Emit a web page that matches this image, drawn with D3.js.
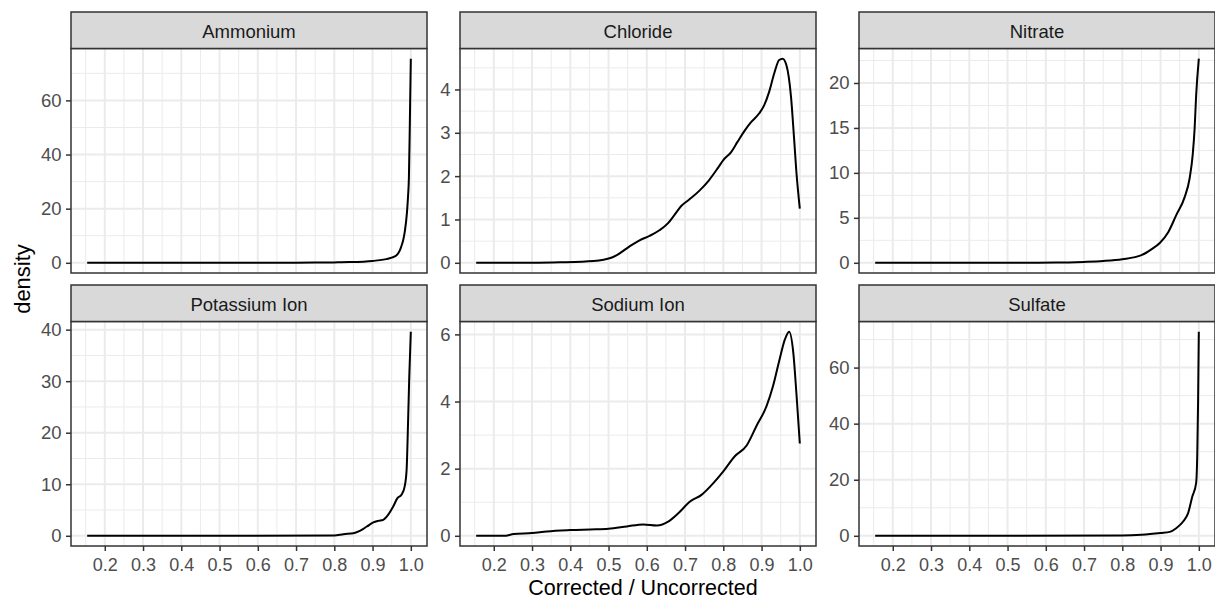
<!DOCTYPE html>
<html>
<head>
  <meta charset='utf-8'>
  <title>Corrected / Uncorrected density</title>
  <style type='text/css'>
body{
  margin:0;
  background:#fff;
}
text{
  font-family: 'Liberation Sans', Arial, sans-serif;
}
  </style>
</head>
<body>
<div id='chartContainer'></div>

<script src='https://d3js.org/d3.v7.min.js'></script>
<script type='text/javascript'>

// Facet names, in panel order (left to right, top to bottom)
var panels = ['Ammonium', 'Chloride', 'Nitrate', 'Potassium Ion', 'Sodium Ion', 'Sulfate'];

// x tick values shared by all panels
var xTicks = [0.2, 0.3, 0.4, 0.5, 0.6, 0.7, 0.8, 0.9, 1.0];

// density curves
var ammoniumX = [0.154, 0.3, 0.5, 0.7, 0.75, 0.8, 0.84, 0.9, 0.936, 0.95, 0.962, 0.971, 0.975, 0.98, 0.984, 0.99, 0.9925, 0.995, 0.9975, 1.0];
var ammoniumY = [0, 0, 0.02, 0.05, 0.08, 0.15, 0.25, 0.7, 1.35, 1.9, 2.7, 4.5, 6, 8.3, 11.3, 18.7, 24, 31.5, 52, 75.4];

var chlorideX = [0.154, 0.3, 0.374, 0.461, 0.507, 0.524, 0.555, 0.581, 0.607, 0.633, 0.655, 0.672, 0.69, 0.711, 0.737, 0.763, 0.786, 0.8, 0.82, 0.837, 0.855, 0.872, 0.894, 0.907, 0.92, 0.933, 0.946, 0.955, 0.965, 0.977, 0.985, 0.991, 1.0];
var chlorideY = [0, 0, 0.01, 0.04, 0.115, 0.19, 0.38, 0.52, 0.62, 0.75, 0.91, 1.1, 1.31, 1.46, 1.66, 1.91, 2.19, 2.37, 2.55, 2.79, 3.04, 3.24, 3.45, 3.64, 3.95, 4.37, 4.68, 4.71, 4.56, 3.83, 2.87, 2.1, 1.25];

var nitrateX = [0.154, 0.5, 0.627, 0.7, 0.75, 0.8, 0.85, 0.876, 0.898, 0.92, 0.941, 0.963, 0.976, 0.984, 0.989, 0.993, 1.0];
var nitrateY = [0, 0, 0.02, 0.1, 0.2, 0.4, 0.85, 1.5, 2.2, 3.4, 5.3, 7.3, 9.4, 12, 14.9, 18.6, 22.7];

var potassiumX = [0.154, 0.5, 0.8, 0.824, 0.85, 0.868, 0.885, 0.902, 0.915, 0.928, 0.941, 0.954, 0.965, 0.976, 0.984, 0.989, 0.993, 0.996, 1.0];
var potassiumY = [0, 0, 0.05, 0.32, 0.5, 1.0, 1.8, 2.6, 2.9, 3.1, 4.1, 5.7, 7.3, 8.0, 9.6, 12.8, 22.6, 31, 39.6];

var sodiumX = [0.154, 0.226, 0.252, 0.3, 0.339, 0.4, 0.452, 0.5, 0.548, 0.591, 0.626, 0.657, 0.683, 0.713, 0.743, 0.774, 0.8, 0.83, 0.861, 0.887, 0.913, 0.93, 0.948, 0.961, 0.972, 0.983, 0.991, 1.0];
var sodiumY = [0, 0, 0.05, 0.08, 0.13, 0.17, 0.19, 0.21, 0.28, 0.34, 0.31, 0.43, 0.68, 1.02, 1.22, 1.57, 1.92, 2.37, 2.69, 3.28, 3.86, 4.46, 5.3, 5.85, 6.08, 5.45, 4.26, 2.75];

var sulfateX = [0.154, 0.5, 0.8, 0.85, 0.9, 0.924, 0.941, 0.959, 0.972, 0.983, 0.993, 0.996, 0.998, 1.0];
var sulfateY = [0, 0, 0.1, 0.36, 1.0, 1.4, 2.7, 5.1, 8.1, 14, 18.8, 29.5, 47, 72.8];

// y tick values for each panel (free y scales)
var ammoniumTicks = [0, 20, 40, 60];
var chlorideTicks = [0, 1, 2, 3, 4];
var nitrateTicks = [0, 5, 10, 15, 20];
var potassiumTicks = [0, 10, 20, 30, 40];
var sodiumTicks = [0, 2, 4, 6];
var sulfateTicks = [0, 20, 40, 60];

var xs = [ammoniumX, chlorideX, nitrateX, potassiumX, sodiumX, sulfateX];
var ys = [ammoniumY, chlorideY, nitrateY, potassiumY, sodiumY, sulfateY];
var yTicks = [ammoniumTicks, chlorideTicks, nitrateTicks, potassiumTicks, sodiumTicks, sulfateTicks];

// Layout
var W = 1215, H = 600;
var colLeft = [71, 460, 859];
var panelW = 356;
var stripTop = [12, 285];
var stripH = 36.5;
var panelBottom = [273, 546];

var svg = d3.select('#chartContainer').append('svg')
    .attr('width', W)
    .attr('height', H);

// expand like ggplot: 5% of data range on each side
function expand(ext){
  var r = ext[1] - ext[0];
  return [ext[0] - 0.05 * r, ext[1] + 0.05 * r];
}

var allX = d3.merge(xs);
var xDomain = expand(d3.extent(allX));
var minorX = d3.range(0.15, 1.05, 0.1).filter(function(v){ return v >= xDomain[0] && v <= xDomain[1]; });

panels.forEach(function(name, i){
  var row = Math.floor(i / 3), col = i % 3;
  var left = colLeft[col];
  var top = stripTop[row] + stripH;
  var bottom = panelBottom[row];

  var x = d3.scaleLinear().domain(xDomain).range([left, left + panelW]);
  var yDomain = expand([0, d3.max(ys[i])]);
  var y = d3.scaleLinear().domain(yDomain).range([bottom, top]);

  var tks = yTicks[i];
  var step = tks[1] - tks[0];
  var minorY = [tks[0] - step / 2].concat(tks.map(function(t){ return t + step / 2; }))
      .filter(function(v){ return v >= yDomain[0] && v <= yDomain[1]; });

  var g = svg.append('g');

  // panel background + grid
  g.append('rect')
    .attr('x', left).attr('y', top)
    .attr('width', panelW).attr('height', bottom - top)
    .attr('fill', '#fff');

  g.selectAll('.minx').data(minorX).enter().append('line')
    .attr('x1', function(d){ return x(d); }).attr('x2', function(d){ return x(d); })
    .attr('y1', top).attr('y2', bottom)
    .attr('stroke', '#EBEBEB').attr('stroke-width', 1);
  g.selectAll('.miny').data(minorY).enter().append('line')
    .attr('y1', function(d){ return y(d); }).attr('y2', function(d){ return y(d); })
    .attr('x1', left).attr('x2', left + panelW)
    .attr('stroke', '#EBEBEB').attr('stroke-width', 1);
  g.selectAll('.majx').data(xTicks).enter().append('line')
    .attr('x1', function(d){ return x(d); }).attr('x2', function(d){ return x(d); })
    .attr('y1', top).attr('y2', bottom)
    .attr('stroke', '#EBEBEB').attr('stroke-width', 2);
  g.selectAll('.majy').data(tks).enter().append('line')
    .attr('y1', function(d){ return y(d); }).attr('y2', function(d){ return y(d); })
    .attr('x1', left).attr('x2', left + panelW)
    .attr('stroke', '#EBEBEB').attr('stroke-width', 2);

  // density line
  var pts = xs[i].map(function(v, k){ return [v, ys[i][k]]; });
  g.append('path')
    .datum(pts)
    .attr('fill', 'none')
    .attr('stroke', '#000')
    .attr('stroke-width', 2)
    .attr('stroke-linejoin', 'round')
    .attr('d', d3.line()
      .x(function(d){ return x(d[0]); })
      .y(function(d){ return y(d[1]); })
      .curve(d3.curveMonotoneX));

  // panel border
  g.append('rect')
    .attr('x', left).attr('y', top)
    .attr('width', panelW).attr('height', bottom - top)
    .attr('fill', 'none')
    .attr('stroke', '#333').attr('stroke-width', 1.5);

  // strip
  g.append('rect')
    .attr('x', left).attr('y', stripTop[row])
    .attr('width', panelW).attr('height', stripH)
    .attr('fill', '#D9D9D9')
    .attr('stroke', '#333').attr('stroke-width', 1.5);
  g.append('text')
    .attr('x', left + panelW / 2)
    .attr('y', stripTop[row] + stripH / 2 + 1)
    .attr('text-anchor', 'middle')
    .attr('dominant-baseline', 'central')
    .style('font-size', '18.5px')
    .style('fill', '#1A1A1A')
    .text(name);

  // y axis
  var ya = g.append('g')
    .call(d3.axisLeft(y).tickValues(tks).tickSize(5).tickPadding(4.5)
      .tickFormat(d3.format('d')))
    .attr('transform', 'translate(' + left + ',0)');
  ya.select('.domain').remove();
  ya.selectAll('line').attr('stroke', '#333').attr('stroke-width', 1.5);
  ya.selectAll('text').style('font-size', '18.5px').style('fill', '#4D4D4D')
    .style('font-family', "'Liberation Sans', Arial, sans-serif");

  // x axis only on bottom row
  if (row === 1) {
    var xa = g.append('g')
      .attr('transform', 'translate(0,' + bottom + ')')
      .call(d3.axisBottom(x).tickValues(xTicks).tickSize(5).tickPadding(7)
        .tickFormat(d3.format('.1f')));
    xa.select('.domain').remove();
    xa.selectAll('line').attr('stroke', '#333').attr('stroke-width', 1.5);
    xa.selectAll('text').style('font-size', '18px').style('fill', '#4D4D4D')
      .style('font-family', "'Liberation Sans', Arial, sans-serif");
  }
});

// axis titles
svg.append('text')
  .attr('x', (colLeft[0] + colLeft[2] + panelW) / 2)
  .attr('y', 595)
  .attr('text-anchor', 'middle')
  .style('font-size', '21.5px')
  .style('fill', '#000')
  .text('Corrected / Uncorrected');

svg.append('text')
  .attr('transform', 'translate(30,' + ((stripTop[0] + panelBottom[1]) / 2) + ') rotate(-90)')
  .attr('text-anchor', 'middle')
  .style('font-size', '22px')
  .style('fill', '#000')
  .text('density');

</script>
</body>
</html>
